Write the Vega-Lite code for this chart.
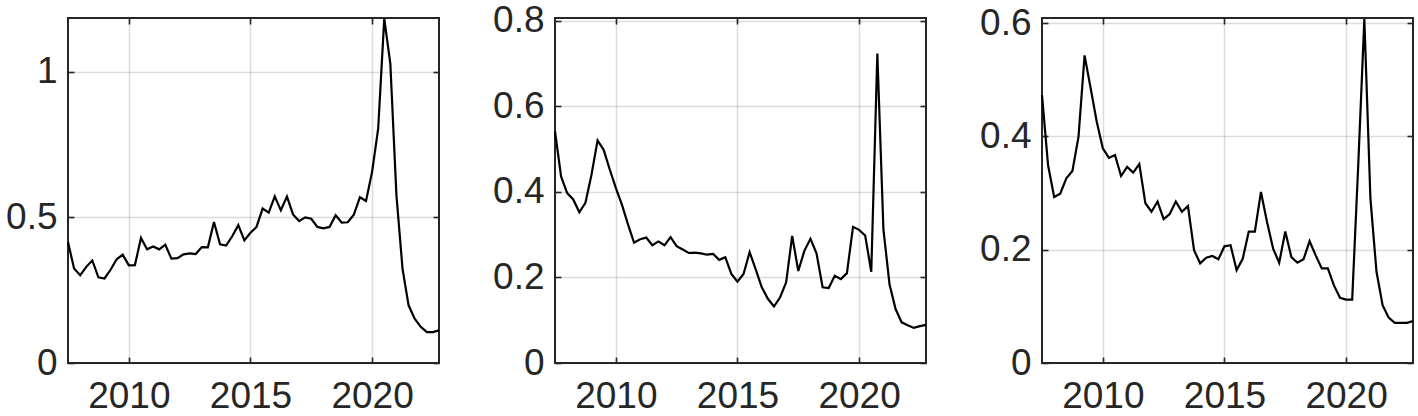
{
  "$schema": "https://vega.github.io/schema/vega-lite/v6.json",
  "padding": {"left": 4, "top": 0, "right": 0, "bottom": 0},
  "background": "white",
  "config": {
    "view": {"stroke": "#262626", "strokeWidth": 2},
    "font": "Liberation Sans",
    "axis": {
      "labelFont": "Liberation Sans",
      "labelFontSize": 37,
      "labelColor": "#262626",
      "tickColor": "#262626",
      "tickWidth": 1.6,
      "gridColor": "#262626",
      "gridOpacity": 0.16,
      "gridWidth": 1.5,
      "domain": false,
      "title": null
    }
  },
  "datasets": {
    "p1": [
      {"t": 2007.5, "v": 0.415}, {"t": 2007.75, "v": 0.324}, {"t": 2008.0, "v": 0.301}, {"t": 2008.25, "v": 0.33},
      {"t": 2008.5, "v": 0.352}, {"t": 2008.75, "v": 0.294}, {"t": 2009.0, "v": 0.29}, {"t": 2009.25, "v": 0.32},
      {"t": 2009.5, "v": 0.356}, {"t": 2009.75, "v": 0.372}, {"t": 2010.0, "v": 0.335}, {"t": 2010.25, "v": 0.336},
      {"t": 2010.5, "v": 0.429}, {"t": 2010.75, "v": 0.39}, {"t": 2011.0, "v": 0.4}, {"t": 2011.25, "v": 0.39},
      {"t": 2011.5, "v": 0.406}, {"t": 2011.75, "v": 0.358}, {"t": 2012.0, "v": 0.36}, {"t": 2012.25, "v": 0.373},
      {"t": 2012.5, "v": 0.376}, {"t": 2012.75, "v": 0.374}, {"t": 2013.0, "v": 0.398}, {"t": 2013.25, "v": 0.397},
      {"t": 2013.5, "v": 0.484}, {"t": 2013.75, "v": 0.407}, {"t": 2014.0, "v": 0.403}, {"t": 2014.25, "v": 0.435},
      {"t": 2014.5, "v": 0.473}, {"t": 2014.75, "v": 0.421}, {"t": 2015.0, "v": 0.447}, {"t": 2015.25, "v": 0.467},
      {"t": 2015.5, "v": 0.53}, {"t": 2015.75, "v": 0.516}, {"t": 2016.0, "v": 0.572}, {"t": 2016.25, "v": 0.524},
      {"t": 2016.5, "v": 0.571}, {"t": 2016.75, "v": 0.51}, {"t": 2017.0, "v": 0.487}, {"t": 2017.25, "v": 0.5},
      {"t": 2017.5, "v": 0.495}, {"t": 2017.75, "v": 0.467}, {"t": 2018.0, "v": 0.462}, {"t": 2018.25, "v": 0.467},
      {"t": 2018.5, "v": 0.507}, {"t": 2018.75, "v": 0.482}, {"t": 2019.0, "v": 0.483}, {"t": 2019.25, "v": 0.509},
      {"t": 2019.5, "v": 0.569}, {"t": 2019.75, "v": 0.556}, {"t": 2020.0, "v": 0.656}, {"t": 2020.25, "v": 0.804},
      {"t": 2020.5, "v": 1.182}, {"t": 2020.75, "v": 1.027}, {"t": 2021.0, "v": 0.576}, {"t": 2021.25, "v": 0.324},
      {"t": 2021.5, "v": 0.198}, {"t": 2021.75, "v": 0.152}, {"t": 2022.0, "v": 0.124}, {"t": 2022.25, "v": 0.106},
      {"t": 2022.5, "v": 0.106}, {"t": 2022.75, "v": 0.112}
    ],
    "p2": [
      {"t": 2007.5, "v": 0.541}, {"t": 2007.75, "v": 0.436}, {"t": 2008.0, "v": 0.397}, {"t": 2008.25, "v": 0.382},
      {"t": 2008.5, "v": 0.352}, {"t": 2008.75, "v": 0.374}, {"t": 2009.0, "v": 0.44}, {"t": 2009.25, "v": 0.52},
      {"t": 2009.5, "v": 0.498}, {"t": 2009.75, "v": 0.452}, {"t": 2010.0, "v": 0.409}, {"t": 2010.25, "v": 0.37},
      {"t": 2010.5, "v": 0.324}, {"t": 2010.75, "v": 0.281}, {"t": 2011.0, "v": 0.289}, {"t": 2011.25, "v": 0.293},
      {"t": 2011.5, "v": 0.275}, {"t": 2011.75, "v": 0.284}, {"t": 2012.0, "v": 0.275}, {"t": 2012.25, "v": 0.294},
      {"t": 2012.5, "v": 0.273}, {"t": 2012.75, "v": 0.265}, {"t": 2013.0, "v": 0.257}, {"t": 2013.25, "v": 0.258},
      {"t": 2013.5, "v": 0.256}, {"t": 2013.75, "v": 0.253}, {"t": 2014.0, "v": 0.255}, {"t": 2014.25, "v": 0.241},
      {"t": 2014.5, "v": 0.247}, {"t": 2014.75, "v": 0.208}, {"t": 2015.0, "v": 0.19}, {"t": 2015.25, "v": 0.208},
      {"t": 2015.5, "v": 0.259}, {"t": 2015.75, "v": 0.219}, {"t": 2016.0, "v": 0.177}, {"t": 2016.25, "v": 0.15},
      {"t": 2016.5, "v": 0.132}, {"t": 2016.75, "v": 0.153}, {"t": 2017.0, "v": 0.188}, {"t": 2017.25, "v": 0.297},
      {"t": 2017.5, "v": 0.215}, {"t": 2017.75, "v": 0.262}, {"t": 2018.0, "v": 0.29}, {"t": 2018.25, "v": 0.256},
      {"t": 2018.5, "v": 0.177}, {"t": 2018.75, "v": 0.175}, {"t": 2019.0, "v": 0.204}, {"t": 2019.25, "v": 0.196},
      {"t": 2019.5, "v": 0.21}, {"t": 2019.75, "v": 0.318}, {"t": 2020.0, "v": 0.311}, {"t": 2020.25, "v": 0.298},
      {"t": 2020.5, "v": 0.213}, {"t": 2020.75, "v": 0.723}, {"t": 2021.0, "v": 0.312}, {"t": 2021.25, "v": 0.184},
      {"t": 2021.5, "v": 0.126}, {"t": 2021.75, "v": 0.095}, {"t": 2022.0, "v": 0.088}, {"t": 2022.25, "v": 0.082},
      {"t": 2022.5, "v": 0.086}, {"t": 2022.75, "v": 0.089}
    ],
    "p3": [
      {"t": 2007.5, "v": 0.473}, {"t": 2007.75, "v": 0.349}, {"t": 2008.0, "v": 0.293}, {"t": 2008.25, "v": 0.299},
      {"t": 2008.5, "v": 0.326}, {"t": 2008.75, "v": 0.339}, {"t": 2009.0, "v": 0.399}, {"t": 2009.25, "v": 0.543},
      {"t": 2009.5, "v": 0.485}, {"t": 2009.75, "v": 0.426}, {"t": 2010.0, "v": 0.379}, {"t": 2010.25, "v": 0.362},
      {"t": 2010.5, "v": 0.367}, {"t": 2010.75, "v": 0.33}, {"t": 2011.0, "v": 0.346}, {"t": 2011.25, "v": 0.336},
      {"t": 2011.5, "v": 0.351}, {"t": 2011.75, "v": 0.282}, {"t": 2012.0, "v": 0.267}, {"t": 2012.25, "v": 0.285},
      {"t": 2012.5, "v": 0.254}, {"t": 2012.75, "v": 0.263}, {"t": 2013.0, "v": 0.285}, {"t": 2013.25, "v": 0.267},
      {"t": 2013.5, "v": 0.277}, {"t": 2013.75, "v": 0.199}, {"t": 2014.0, "v": 0.176}, {"t": 2014.25, "v": 0.186},
      {"t": 2014.5, "v": 0.189}, {"t": 2014.75, "v": 0.183}, {"t": 2015.0, "v": 0.206}, {"t": 2015.25, "v": 0.208},
      {"t": 2015.5, "v": 0.164}, {"t": 2015.75, "v": 0.184}, {"t": 2016.0, "v": 0.232}, {"t": 2016.25, "v": 0.232},
      {"t": 2016.5, "v": 0.302}, {"t": 2016.75, "v": 0.249}, {"t": 2017.0, "v": 0.202}, {"t": 2017.25, "v": 0.177},
      {"t": 2017.5, "v": 0.232}, {"t": 2017.75, "v": 0.187}, {"t": 2018.0, "v": 0.177}, {"t": 2018.25, "v": 0.183},
      {"t": 2018.5, "v": 0.215}, {"t": 2018.75, "v": 0.19}, {"t": 2019.0, "v": 0.167}, {"t": 2019.25, "v": 0.167},
      {"t": 2019.5, "v": 0.137}, {"t": 2019.75, "v": 0.115}, {"t": 2020.0, "v": 0.112}, {"t": 2020.25, "v": 0.112},
      {"t": 2020.5, "v": 0.35}, {"t": 2020.75, "v": 0.607}, {"t": 2021.0, "v": 0.29}, {"t": 2021.25, "v": 0.161},
      {"t": 2021.5, "v": 0.102}, {"t": 2021.75, "v": 0.08}, {"t": 2022.0, "v": 0.071}, {"t": 2022.25, "v": 0.071},
      {"t": 2022.5, "v": 0.071}, {"t": 2022.75, "v": 0.074}
    ]
  },
  "hconcat": [
    {
      "width": 371, "height": 345,
      "data": {"name": "p1"},
      "layer": [
        {
          "mark": {"type": "line", "color": "#000000", "strokeWidth": 2.2},
          "encoding": {
            "x": {"field": "t", "type": "quantitative", "scale": {"domain": [2007.5, 2022.75], "nice": false, "zero": false},
                  "axis": {"values": [2010, 2015, 2020], "format": "d", "tickSize": -6, "labelPadding": 21, "grid": true}},
            "y": {"field": "v", "type": "quantitative", "scale": {"domain": [0, 1.184], "nice": false},
                  "axis": {"values": [0, 0.5, 1], "labelExpr": "format(datum.value, '~g')", "tickSize": -6, "labelPadding": 17, "grid": true}}
          }
        },
        {
          "mark": {"type": "line", "opacity": 0},
          "encoding": {
            "x": {"field": "t", "type": "quantitative", "axis": {"orient": "top", "values": [2010, 2015, 2020], "labels": false, "tickSize": -6, "grid": false}},
            "y": {"field": "v", "type": "quantitative", "axis": {"orient": "right", "values": [0, 0.5, 1], "labels": false, "tickSize": -6, "grid": false}}
          }
        }
      ],
      "resolve": {"axis": {"x": "independent", "y": "independent"}}
    },
    {
      "width": 371, "height": 345,
      "data": {"name": "p2"},
      "layer": [
        {
          "mark": {"type": "line", "color": "#000000", "strokeWidth": 2.2},
          "encoding": {
            "x": {"field": "t", "type": "quantitative", "scale": {"domain": [2007.5, 2022.75], "nice": false, "zero": false},
                  "axis": {"values": [2010, 2015, 2020], "format": "d", "tickSize": -6, "labelPadding": 21, "grid": true}},
            "y": {"field": "v", "type": "quantitative", "scale": {"domain": [0, 0.806], "nice": false},
                  "axis": {"values": [0, 0.2, 0.4, 0.6, 0.8], "labelExpr": "format(datum.value, '~g')", "tickSize": -6, "labelPadding": 17, "grid": true}}
          }
        },
        {
          "mark": {"type": "line", "opacity": 0},
          "encoding": {
            "x": {"field": "t", "type": "quantitative", "axis": {"orient": "top", "values": [2010, 2015, 2020], "labels": false, "tickSize": -6, "grid": false}},
            "y": {"field": "v", "type": "quantitative", "axis": {"orient": "right", "values": [0, 0.2, 0.4, 0.6, 0.8], "labels": false, "tickSize": -6, "grid": false}}
          }
        }
      ],
      "resolve": {"axis": {"x": "independent", "y": "independent"}}
    },
    {
      "width": 371, "height": 345,
      "data": {"name": "p3"},
      "layer": [
        {
          "mark": {"type": "line", "color": "#000000", "strokeWidth": 2.2},
          "encoding": {
            "x": {"field": "t", "type": "quantitative", "scale": {"domain": [2007.5, 2022.75], "nice": false, "zero": false},
                  "axis": {"values": [2010, 2015, 2020], "format": "d", "tickSize": -6, "labelPadding": 21, "grid": true}},
            "y": {"field": "v", "type": "quantitative", "scale": {"domain": [0, 0.609], "nice": false},
                  "axis": {"values": [0, 0.2, 0.4, 0.6], "labelExpr": "format(datum.value, '~g')", "tickSize": -6, "labelPadding": 17, "grid": true}}
          }
        },
        {
          "mark": {"type": "line", "opacity": 0},
          "encoding": {
            "x": {"field": "t", "type": "quantitative", "axis": {"orient": "top", "values": [2010, 2015, 2020], "labels": false, "tickSize": -6, "grid": false}},
            "y": {"field": "v", "type": "quantitative", "axis": {"orient": "right", "values": [0, 0.2, 0.4, 0.6], "labels": false, "tickSize": -6, "grid": false}}
          }
        }
      ],
      "resolve": {"axis": {"x": "independent", "y": "independent"}}
    }
  ],
  "spacing": 116,
  "bounds": "flush"
}
